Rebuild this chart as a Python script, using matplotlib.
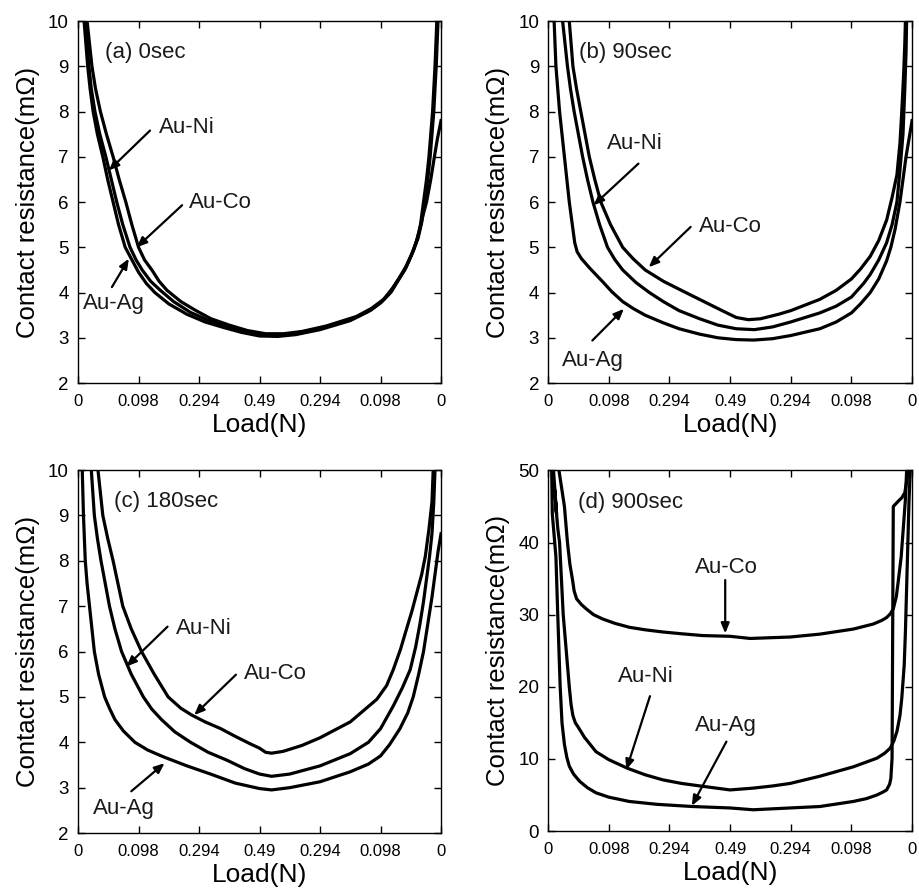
import matplotlib
matplotlib.use('Agg')
import matplotlib.pyplot as plt

plt.rcParams['font.family'] = ['Liberation Sans', 'DejaVu Sans']

# x positions are in tick units: 0 .. 6 (load goes up to 0.49 N and back down)
tick_labels = ['0', '0.098', '0.294', '0.49', '0.294', '0.098', '0']

# (a) 0 sec
a_ag_x = [0.10, 0.13, 0.16, 0.20, 0.25, 0.32, 0.41, 0.49, 0.58, 0.67, 0.78, 0.90, 1.00, 1.13, 1.27, 1.50, 1.80, 2.10, 2.40, 2.70, 3.00, 3.30, 3.60, 4.00, 4.50, 4.80, 5.00, 5.15, 5.25, 5.40, 5.50, 5.60, 5.66, 5.71, 5.76, 5.80, 5.83, 5.86, 5.90, 5.93]
a_ag_y = [10.0, 9.5, 9.0, 8.5, 8.0, 7.5, 7.0, 6.5, 6.0, 5.5, 5.0, 4.7, 4.45, 4.2, 4.0, 3.75, 3.52, 3.35, 3.23, 3.12, 3.04, 3.03, 3.07, 3.18, 3.38, 3.58, 3.77, 3.98, 4.2, 4.5, 4.8, 5.15, 5.5, 6.0, 6.5, 7.0, 7.5, 8.0, 9.0, 10.0]
a_ni_x = [0.12, 0.15, 0.18, 0.22, 0.28, 0.36, 0.46, 0.55, 0.64, 0.74, 0.86, 0.96, 1.06, 1.20, 1.36, 1.58, 1.86, 2.15, 2.45, 2.75, 3.05, 3.35, 3.65, 4.05, 4.55, 4.85, 5.03, 5.18, 5.28, 5.42, 5.52, 5.62, 5.68, 5.73, 5.78, 5.82, 5.85, 5.88, 5.92, 5.95]
a_ni_y = [10.0, 9.5, 9.0, 8.5, 8.0, 7.5, 7.0, 6.5, 6.0, 5.5, 5.0, 4.72, 4.5, 4.25, 4.05, 3.8, 3.56, 3.39, 3.26, 3.15, 3.07, 3.06, 3.11, 3.22, 3.43, 3.62, 3.81, 4.02, 4.24, 4.55, 4.85, 5.2, 5.55, 6.0, 6.5, 7.0, 7.5, 8.0, 9.0, 10.0]
a_co_x = [0.15, 0.19, 0.23, 0.29, 0.37, 0.47, 0.58, 0.68, 0.79, 0.89, 1.00, 1.10, 1.22, 1.34, 1.47, 1.70, 1.95, 2.20, 2.50, 2.80, 3.10, 3.40, 3.70, 4.10, 4.60, 4.85, 5.05, 5.20, 5.30, 5.43, 5.55, 5.64, 5.70, 5.76, 5.83, 5.89, 5.94, 6.00]
a_co_y = [10.0, 9.5, 9.0, 8.5, 8.0, 7.5, 7.0, 6.5, 6.0, 5.5, 5.0, 4.72, 4.5, 4.25, 4.05, 3.8, 3.6, 3.42, 3.28, 3.16, 3.09, 3.09, 3.14, 3.26, 3.47, 3.65, 3.85, 4.1, 4.3, 4.6, 4.95, 5.35, 5.7, 6.0, 6.5, 7.0, 7.4, 7.8]

# (b) 90 sec
b_ag_x = [0.10, 0.115, 0.13, 0.16, 0.19, 0.23, 0.27, 0.31, 0.35, 0.40, 0.44, 0.48, 0.55, 0.68, 0.80, 0.90, 1.05, 1.23, 1.40, 1.60, 1.90, 2.16, 2.50, 2.80, 3.10, 3.39, 3.70, 4.00, 4.48, 4.75, 5.00, 5.15, 5.31, 5.45, 5.58, 5.65, 5.72, 5.80, 5.85, 5.90, 5.95, 6.00]
b_ag_y = [10.0, 9.5, 9.0, 8.5, 8.0, 7.5, 7.0, 6.5, 6.0, 5.5, 5.1, 4.9, 4.75, 4.55, 4.38, 4.24, 4.02, 3.8, 3.65, 3.5, 3.33, 3.2, 3.08, 3.0, 2.96, 2.95, 2.98, 3.05, 3.2, 3.35, 3.55, 3.75, 4.0, 4.3, 4.7, 5.0, 5.4, 6.0, 6.5, 7.0, 7.4, 7.8]
b_ni_x = [0.24, 0.28, 0.32, 0.37, 0.43, 0.50, 0.57, 0.65, 0.74, 0.85, 0.98, 1.10, 1.23, 1.45, 1.67, 1.90, 2.16, 2.50, 2.80, 3.10, 3.40, 3.70, 4.00, 4.48, 4.75, 5.00, 5.20, 5.31, 5.45, 5.58, 5.67, 5.75, 5.80, 5.85, 5.88, 5.90, 5.91]
b_ni_y = [10.0, 9.5, 9.0, 8.5, 8.0, 7.5, 7.0, 6.5, 6.0, 5.5, 5.0, 4.73, 4.5, 4.22, 4.0, 3.8, 3.6, 3.42, 3.28, 3.2, 3.18, 3.24, 3.35, 3.55, 3.7, 3.9, 4.2, 4.4, 4.72, 5.1, 5.5, 6.0, 6.7, 7.5, 8.5, 9.3, 10.0]
b_co_x = [0.35, 0.38, 0.41, 0.47, 0.54, 0.61, 0.68, 0.77, 0.87, 1.03, 1.23, 1.40, 1.60, 1.90, 2.27, 2.60, 2.90, 3.10, 3.30, 3.50, 3.80, 4.00, 4.48, 4.75, 5.00, 5.15, 5.31, 5.45, 5.58, 5.67, 5.75, 5.80, 5.83, 5.86, 5.88, 5.89]
b_co_y = [10.0, 9.5, 9.0, 8.5, 8.0, 7.5, 7.0, 6.5, 6.0, 5.5, 5.0, 4.75, 4.5, 4.25, 4.0, 3.78, 3.58, 3.45, 3.4, 3.42, 3.52, 3.6, 3.85, 4.05, 4.3, 4.52, 4.8, 5.15, 5.6, 6.1, 6.6, 7.3, 8.0, 8.8, 9.5, 10.0]

# (c) 180 sec
c_ag_x = [0.07, 0.08, 0.09, 0.105, 0.12, 0.15, 0.19, 0.23, 0.27, 0.34, 0.44, 0.52, 0.61, 0.75, 0.94, 1.15, 1.41, 1.80, 2.19, 2.60, 3.00, 3.20, 3.50, 4.00, 4.50, 4.80, 5.00, 5.15, 5.32, 5.45, 5.54, 5.63, 5.71, 5.78, 5.85, 5.90, 5.95, 6.00]
c_ag_y = [10.0, 9.5, 9.0, 8.5, 8.0, 7.5, 7.0, 6.5, 6.0, 5.5, 5.0, 4.75, 4.5, 4.25, 4.0, 3.83, 3.68, 3.48, 3.3, 3.1, 2.98, 2.95, 3.0, 3.13, 3.35, 3.52, 3.7, 3.95, 4.3, 4.65, 5.0, 5.5, 6.0, 6.6, 7.2, 7.7, 8.2, 8.6]
c_ni_x = [0.22, 0.245, 0.27, 0.32, 0.38, 0.45, 0.52, 0.61, 0.72, 0.88, 1.08, 1.22, 1.38, 1.60, 1.86, 2.15, 2.47, 2.75, 3.00, 3.20, 3.50, 4.00, 4.50, 4.80, 5.00, 5.21, 5.36, 5.49, 5.58, 5.65, 5.71, 5.76, 5.81, 5.85, 5.88, 5.90]
c_ni_y = [10.0, 9.5, 9.0, 8.5, 8.0, 7.5, 7.0, 6.5, 6.0, 5.5, 5.0, 4.73, 4.5, 4.23, 4.0, 3.78, 3.6, 3.42, 3.3, 3.25, 3.3, 3.48, 3.75, 4.0, 4.3, 4.8, 5.2, 5.6, 6.1, 6.6, 7.1, 7.6, 8.1, 8.6, 9.3, 10.0]
c_co_x = [0.33, 0.37, 0.41, 0.49, 0.58, 0.66, 0.74, 0.88, 1.05, 1.26, 1.49, 1.70, 1.88, 2.10, 2.36, 2.60, 2.84, 3.00, 3.10, 3.20, 3.39, 3.70, 4.00, 4.50, 4.94, 5.10, 5.21, 5.33, 5.43, 5.52, 5.60, 5.68, 5.74, 5.80, 5.85, 5.87]
c_co_y = [10.0, 9.5, 9.0, 8.5, 8.0, 7.5, 7.0, 6.5, 6.0, 5.5, 5.0, 4.75, 4.6, 4.45, 4.3, 4.13, 3.97, 3.87, 3.78, 3.76, 3.8, 3.93, 4.1, 4.45, 4.95, 5.25, 5.6, 6.05, 6.5, 6.9, 7.3, 7.7, 8.1, 8.7, 9.3, 10.0]

# (d) 900 sec
d_ag_x = [0.06, 0.07, 0.10, 0.13, 0.16, 0.18, 0.20, 0.23, 0.27, 0.31, 0.35, 0.42, 0.52, 0.65, 0.79, 1.00, 1.34, 1.80, 2.38, 3.00, 3.38, 3.99, 4.48, 5.03, 5.25, 5.42, 5.52, 5.58, 5.63, 5.65, 5.67, 5.68, 5.69, 5.78, 5.83, 5.88, 5.94]
d_ag_y = [50.0, 44.0, 41.0, 38.0, 30.0, 25.0, 20.0, 15.0, 12.0, 10.2, 9.0, 7.9, 6.9, 6.0, 5.3, 4.7, 4.1, 3.7, 3.4, 3.2, 2.95, 3.2, 3.4, 4.1, 4.5, 5.0, 5.4, 5.7, 6.5, 7.3, 10.1, 27.6, 45.0, 45.8, 46.2, 46.9, 50.0]
d_ni_x = [0.09, 0.14, 0.10, 0.16, 0.19, 0.22, 0.25, 0.30, 0.35, 0.38, 0.41, 0.45, 0.49, 0.60, 0.79, 1.00, 1.31, 1.60, 1.89, 2.20, 2.55, 3.00, 3.38, 3.70, 3.99, 4.48, 5.03, 5.42, 5.55, 5.64, 5.70, 5.75, 5.80, 5.83, 5.87, 5.89, 5.92, 5.95, 5.97]
d_ni_y = [50.0, 44.0, 48.0, 42.0, 40.0, 35.0, 30.0, 25.0, 20.0, 17.5, 16.0, 15.0, 14.5, 13.0, 11.0, 9.9, 8.7, 7.8, 7.1, 6.6, 6.2, 5.7, 5.95, 6.25, 6.6, 7.6, 8.9, 10.1, 10.8, 11.5, 12.5, 13.8, 16.0, 18.4, 23.0, 27.6, 36.8, 46.0, 50.0]
d_co_x = [0.18, 0.27, 0.32, 0.36, 0.40, 0.43, 0.47, 0.55, 0.63, 0.75, 0.90, 1.10, 1.34, 1.60, 1.89, 2.20, 2.55, 3.00, 3.33, 3.99, 4.48, 5.03, 5.36, 5.50, 5.58, 5.64, 5.69, 5.74, 5.77, 5.82, 5.85, 5.89, 5.91]
d_co_y = [50.0, 45.0, 40.0, 37.0, 35.0, 33.3, 32.2, 31.4, 30.8, 30.0, 29.4, 28.8, 28.25, 27.9, 27.6, 27.35, 27.1, 27.0, 26.7, 26.9, 27.3, 28.0, 28.7, 29.2, 29.6, 30.1, 30.8, 32.5, 34.5, 38.0, 41.4, 46.0, 50.0]

panels = [
    dict(rect=[0.0848, 0.5725, 0.3946, 0.404], ylim=(2, 10), yticks=range(2, 11),
         title='(a) 0sec', title_xy=(0.45, 9.31),
         curves=[(a_ag_x, a_ag_y), (a_ni_x, a_ni_y), (a_co_x, a_co_y)],
         notes=[('Au-Ni', (1.33, 7.64), (1.19, 7.58), (0.51, 6.7)),
                ('Au-Co', (1.83, 6.0), (1.72, 5.93), (0.97, 5.0)),
                ('Au-Ag', (0.08, 3.75), (0.56, 4.12), (0.84, 4.75))]),
    dict(rect=[0.5957, 0.5725, 0.3957, 0.404], ylim=(2, 10), yticks=range(2, 11),
         title='(b) 90sec', title_xy=(0.51, 9.31),
         curves=[(b_ag_x, b_ag_y), (b_ni_x, b_ni_y), (b_co_x, b_co_y)],
         notes=[('Au-Ni', (0.97, 7.29), (1.49, 6.85), (0.75, 5.93)),
                ('Au-Co', (2.48, 5.45), (2.35, 5.45), (1.66, 4.56)),
                ('Au-Ag', (0.23, 2.5), (0.73, 2.94), (1.25, 3.64))]),
    dict(rect=[0.0848, 0.0703, 0.3946, 0.405], ylim=(2, 10), yticks=range(2, 11),
         title='(c) 180sec', title_xy=(0.6, 9.3),
         curves=[(c_ag_x, c_ag_y), (c_ni_x, c_ni_y), (c_co_x, c_co_y)],
         notes=[('Au-Ni', (1.62, 6.51), (1.48, 6.55), (0.8, 5.67)),
                ('Au-Co', (2.74, 5.52), (2.61, 5.49), (1.92, 4.6)),
                ('Au-Ag', (0.25, 2.55), (0.88, 2.92), (1.43, 3.54))]),
    dict(rect=[0.5957, 0.0725, 0.3957, 0.4025], ylim=(0, 50), yticks=range(0, 51, 10),
         title='(d) 900sec', title_xy=(0.5, 45.6),
         curves=[(d_ag_x, d_ag_y), (d_ni_x, d_ni_y), (d_co_x, d_co_y)],
         notes=[('Au-Co', (2.42, 36.6), (2.92, 34.8), (2.92, 27.4)),
                ('Au-Ni', (1.16, 21.4), (1.68, 18.7), (1.29, 8.5)),
                ('Au-Ag', (2.42, 14.7), (2.94, 12.4), (2.37, 3.5))]),
]

fig = plt.figure(figsize=(9.2, 8.96), dpi=100)

for p in panels:
    ax = fig.add_axes(p['rect'])
    for xs, ys in p['curves']:
        ax.plot(xs, ys, color='black', lw=2.3, solid_joinstyle='round')
    ax.set_xlim(0, 6)
    ax.set_ylim(*p['ylim'])
    ax.set_xticks(range(7))
    ax.set_xticklabels(tick_labels, fontsize=12)
    ax.set_yticks(list(p['yticks']))
    ax.tick_params(axis='y', labelsize=13.5, pad=6.5)
    ax.tick_params(axis='x', pad=8)
    ax.tick_params(direction='in', top=True, right=True, length=5, width=1, colors='black')
    for s in ax.spines.values():
        s.set_linewidth(1.0)
    ax.set_xlabel('Load(N)', fontsize=19, labelpad=3)
    ax.set_ylabel('Contact resistance(mΩ)', fontsize=18.5, labelpad=6)
    ax.text(*p['title_xy'], p['title'], fontsize=16, va='center', ha='left', color='#1a1a1a')
    for label, txy, tail, tip in p['notes']:
        ax.text(*txy, label, fontsize=16, va='center', ha='left', color='#1a1a1a')
        ax.annotate('', xy=tip, xytext=tail,
                    arrowprops=dict(arrowstyle='-|>,head_length=0.6,head_width=0.25',
                                    color='black', lw=1.6, shrinkA=0, shrinkB=0))

fig.savefig('out.png', dpi=100)
